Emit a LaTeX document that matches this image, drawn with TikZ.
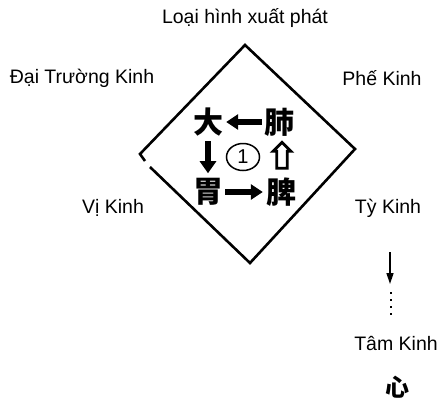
\documentclass[tikz,border=0pt]{standalone}
\usepackage{fontspec}
\setmainfont{Liberation Sans}
\newfontfamily\cjk{Noto Sans CJK SC}
\usetikzlibrary{arrows.meta,shapes.arrows,shapes.geometric}
\begin{document}
\begin{tikzpicture}[x=1pt,y=-1pt,
  lbl/.style={font=\fontsize{19.5}{22}\selectfont, inner sep=0pt},
  han/.style={font=\cjk\bfseries\fontsize{30}{32}\selectfont, inner sep=0pt},
  fatarrow/.style={line width=5.5pt, -{Triangle[length=12pt,width=15pt]}, shorten <=2pt, shorten >=3pt},
  edge/.style={line width=2.6pt, line join=miter}]
\useasboundingbox (0,0) rectangle (442,405);
% labels
\node[lbl] (top) at (245,18) {Loại hình xuất phát};
\node[lbl] (dtk) at (82,78) {Đại Trường Kinh};
\node[lbl] (pk) at (382,78) {Phế Kinh};
\node[lbl] (vk) at (113,208) {Vị Kinh};
\node[lbl] (tyk) at (388,208) {Tỳ Kinh};
\node[lbl] (tamk) at (396,343) {Tâm Kinh};
\node[font=\cjk\bfseries\fontsize{24}{26}\selectfont, inner sep=0pt] (xin) at (397,387) {心};
% diamond
\coordinate (dT) at (245,45);
\coordinate (dR) at (355,149);
\coordinate (dB) at (250,263);
\coordinate (dL) at (140,154);
\draw[edge] (150,167) -- (dB) -- (dR) -- (dT) -- (dL) -- (145,161);
% inner characters
\node[han] (da) at (208,122) {大};
\node[han] (fei) at (279,122) {肺};
\node[han] (wei) at (208,192) {胃};
\node[han] (pi) at (281,192) {脾};
\node[draw, ellipse, line width=1.5pt, inner sep=1pt, minimum width=33pt, minimum height=27pt,
      font=\rmfamily\fontsize{20}{22}\selectfont] (one) at (243,157) {1};
\draw[fatarrow] (fei.west) -- (da.east);
\draw[fatarrow] (wei.east) -- (pi.west);
\draw[line width=6pt, -{Triangle[length=12pt,width=16pt]}, shorten <=5pt, shorten >=5pt] (da.south) -- (wei.north);
\node[single arrow, draw, line width=2.8pt, rotate=90, minimum height=26pt, minimum width=18pt,
      single arrow head extend=2pt, inner sep=1.5pt] (up) at (282,158) {};
% right arrow and dots
\coordinate (a1) at (390,252);
\coordinate (a2) at (390,284);
\coordinate (d1) at (391,292);
\coordinate (d2) at (391,319);
\draw[line width=1.6pt, -{Triangle[length=11pt,width=7pt]}] (a1) -- (a2);
\draw[line width=2pt, dash pattern=on 2pt off 5pt] (d1) -- (d2);
\end{tikzpicture}
\end{document}
